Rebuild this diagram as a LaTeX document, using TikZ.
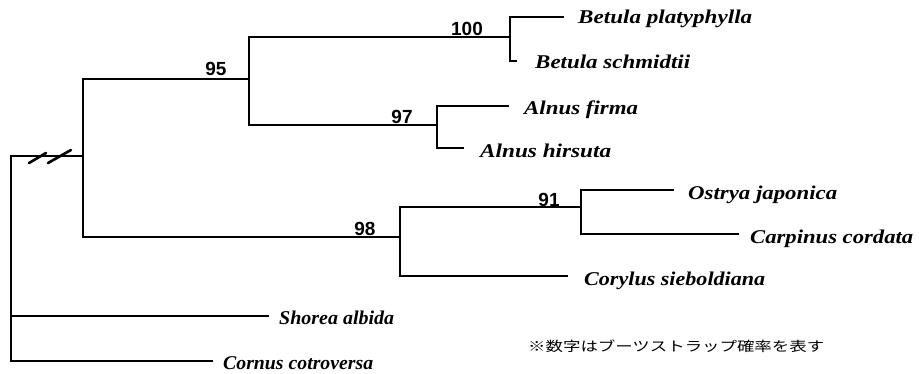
\documentclass[tikz,border=0pt]{standalone}
\usepackage{fontspec}
\usepackage{graphicx}
\setmainfont{Liberation Serif}
\newfontfamily\numfont{Liberation Sans}
\newfontfamily\jpfont{Noto Sans CJK JP}
\newcommand\tx[2]{\resizebox{#1pt}{\height}{\fontsize{19.5}{21}\selectfont\bfseries\itshape #2}}
\begin{document}
\begin{tikzpicture}[x=1pt,y=-1pt,
  branch/.style={line width=2pt,line cap=rect},
  taxon/.style={anchor=base west,inner sep=0pt},
  boot/.style={inner sep=0pt,font=\numfont\bfseries\fontsize{19}{21}\selectfont},
  brk/.style={line width=2.6pt,line cap=round}]
\useasboundingbox (0,0) rectangle (919,373);
% internal nodes
\coordinate (R) at (11,260);
\coordinate (A) at (83,156);
\coordinate (B) at (249,79);
\coordinate (C) at (510,37);
\coordinate (D) at (437,125);
\coordinate (E) at (400,237);
\coordinate (F) at (581,207);
% tips
\coordinate (t1) at (563,17);
\coordinate (t2) at (516,61);
\coordinate (t3) at (508,106);
\coordinate (t4) at (463,148);
\coordinate (t5) at (673,190);
\coordinate (t6) at (738,234);
\coordinate (t7) at (567,276);
\coordinate (t8) at (268,316);
\coordinate (t9) at (212,361);
% branches
\draw[branch] (R) |- (A);
\draw[branch] (R) |- (t8);
\draw[branch] (R) |- (t9);
\draw[branch] (A) |- (B);
\draw[branch] (A) |- (E);
\draw[branch] (B) |- (C);
\draw[branch] (B) |- (D);
\draw[branch] (C) |- (t1);
\draw[branch] (C) |- (t2);
\draw[branch] (D) |- (t3);
\draw[branch] (D) |- (t4);
\draw[branch] (E) |- (F);
\draw[branch] (E) |- (t7);
\draw[branch] (F) |- (t5);
\draw[branch] (F) |- (t6);
% break marks
\draw[brk] (29,163) -- (46,153);
\draw[brk] (48,163) -- (71,150);
% taxa
\node[taxon] (n1) at (578,23) {\tx{174}{Betula platyphylla}};
\node[taxon] (n2) at (535,68) {\tx{155}{Betula schmidtii}};
\node[taxon] (n3) at (524,114) {\tx{114}{Alnus firma}};
\node[taxon] (n4) at (480,157) {\tx{131}{Alnus hirsuta}};
\node[taxon] (n5) at (688,199) {\tx{149}{Ostrya japonica}};
\node[taxon] (n6) at (750,243) {\tx{163}{Carpinus cordata}};
\node[taxon] (n7) at (584,285) {\tx{181}{Corylus sieboldiana}};
\node[taxon] (n8) at (279,324) {\tx{115}{Shorea albida}};
\node[taxon] (n9) at (223,369) {\tx{150}{Cornus cotroversa}};
% bootstrap values
\node[boot] (b95) at (216,69) {95};
\node[boot] (b100) at (467,29) {100};
\node[boot] (b97) at (402,117) {97};
\node[boot] (b98) at (365,229) {98};
\node[boot] (b91) at (549,200) {91};
% note
\node[anchor=base west,inner sep=0pt] (note) at (528,351) {\resizebox{296pt}{\height}{\jpfont\fontsize{13.5}{15}\selectfont ※数字はブーツストラップ確率を表す}};
\end{tikzpicture}
\end{document}
